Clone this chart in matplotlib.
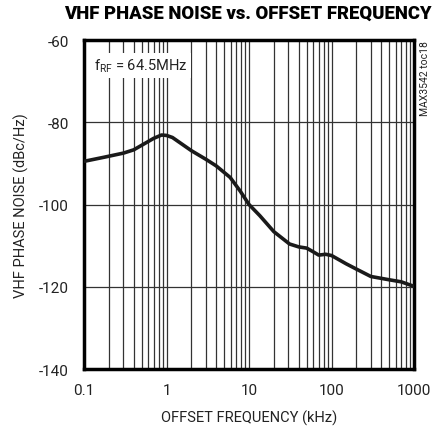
import matplotlib.pyplot as plt
from matplotlib.ticker import FixedLocator, NullFormatter

plt.rcParams['font.family'] = ['Roboto', 'DejaVu Sans']

# Data
freq_khz = [0.1, 0.175, 0.3, 0.4, 0.53, 0.7, 0.87, 1.0, 1.18, 2.0, 3.0, 4.0,
            5.9, 7.8, 10, 13.5, 20, 31, 40, 50, 60, 70, 85, 100, 150, 200,
            300, 500, 700, 1000]
noise_dbc = [-89.5, -88.5, -87.5, -86.7, -85.3, -83.9, -83.1, -83.2, -83.7,
             -86.9, -89.0, -90.6, -93.4, -96.7, -100.0, -102.7, -106.6,
             -109.6, -110.3, -110.6, -111.5, -112.3, -112.1, -112.4, -114.4,
             -115.7, -117.5, -118.3, -118.8, -119.9]
x_ticks = [0.1, 1, 10, 100, 1000]
x_tick_labels = ['0.1', '1', '10', '100', '1000']
y_ticks = [-140, -120, -100, -80, -60]

fig = plt.figure(figsize=(4.36, 4.31), dpi=100)
ax = fig.add_axes([0.1927, 0.1415, 0.7569, 0.7633])

ax.plot(freq_khz, noise_dbc, color='#1a1a1a', lw=2.6, solid_capstyle='round',
        solid_joinstyle='round', zorder=4)

ax.set_xscale('log')
ax.set_xlim(0.1, 1000)
ax.set_ylim(-140, -60)

# grid lines at every 1..9 x decade
minor = [m * 10.0 ** e for e in range(-1, 3) for m in range(2, 10)]
ax.xaxis.set_major_locator(FixedLocator(x_ticks))
ax.xaxis.set_minor_locator(FixedLocator(minor))
ax.xaxis.set_minor_formatter(NullFormatter())
ax.set_xticklabels(x_tick_labels)
ax.set_yticks(y_ticks)
ax.set_yticklabels([str(v) for v in y_ticks])
ax.grid(True, which='both', axis='x', color='#333333', lw=0.9)
ax.grid(True, which='major', axis='y', color='#333333', lw=0.9)
ax.tick_params(which='both', length=0, labelsize=11, colors='#222222')
ax.tick_params(axis='x', pad=10)
ax.tick_params(axis='y', pad=11)

for s in ax.spines.values():
    s.set_linewidth(2.5)
    s.set_color('black')

ax.text(0.03, 0.95, r'f$_{\mathregular{RF}}$ = 64.5MHz', transform=ax.transAxes,
        fontsize=10.5, va='top', ha='left', color='#222222', zorder=5,
        bbox=dict(facecolor='white', edgecolor='none', pad=2.5))

ax.set_xlabel('OFFSET FREQUENCY (kHz)', fontsize=10.5, color='#222222', labelpad=9)
ax.set_ylabel('VHF PHASE NOISE (dBc/Hz)', fontsize=10.5, color='#222222', labelpad=7)

fig.text(0.569, 0.967, 'VHF PHASE NOISE vs. OFFSET FREQUENCY', ha='center', va='center',
         fontsize=13.3, fontweight='heavy', color='black')
fig.text(0.975, 0.905, 'MAX3542 toc18', rotation=90, ha='center', va='top',
         fontsize=7.5, color='#222222')

plt.savefig('out.png', dpi=100)
